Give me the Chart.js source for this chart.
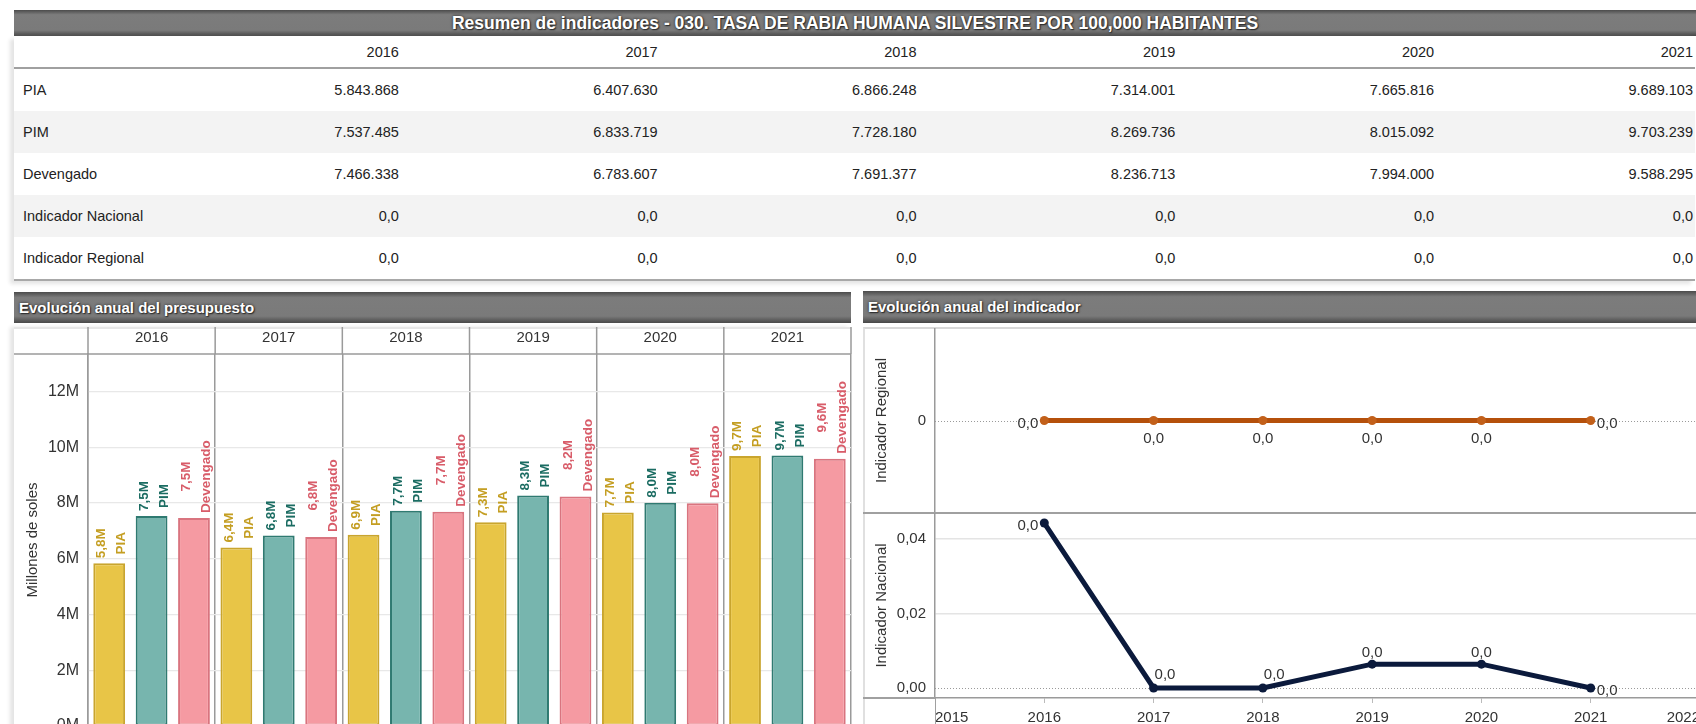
<!DOCTYPE html>
<html lang="es">
<head>
<meta charset="utf-8">
<title>Resumen de indicadores</title>
<script src="https://cdn.jsdelivr.net/npm/chart.js@4.4.1/dist/chart.umd.min.js"></script>
<style>
  html, body { margin: 0; padding: 0; background: #fff; }
  body { width: 1696px; height: 724px; overflow: hidden; position: relative;
         font-family: "Liberation Sans", Arial, sans-serif; color: #222; }
  .bar-title { position: absolute; box-sizing: border-box; color: #fff; font-weight: bold;
               background: linear-gradient(#4b4b4b 0, #7c7c7c 18%, #7a7a7a 78%, #474747 100%);
               text-shadow: 0 0 3px #222, 1px 1px 1px #333; white-space: nowrap; }
  #title { left: 14px; top: 10px; width: 1682px; height: 26px; line-height: 26px;
           text-align: center; font-size: 17.5px; }
  #titlePresupuesto { left: 14px; top: 292px; width: 837px; height: 31px; line-height: 31px;
                      padding-left: 5px; font-size: 15px; }
  #titleIndicador { left: 863px; top: 291px; width: 833px; height: 32px; line-height: 32px;
                    padding-left: 5px; font-size: 15px; }
  #resumen { position: absolute; left: 14px; top: 36px; width: 1681px; border-collapse: collapse;
             table-layout: fixed; font-size: 14.5px; box-shadow: -4px 3px 4px #e4e4e4; }
  #resumen th, #resumen td { white-space: nowrap; overflow: visible; }
  #resumen th { height: 31px; font-weight: normal; text-align: right; padding: 0 2px 0 0;
                border-bottom: 2px solid #a0a0a0; }
  #resumen td { height: 42px; text-align: right; padding: 0 2px 0 0; }
  #resumen td:first-child { text-align: left; padding-left: 9px; }
  #resumen tbody tr:nth-child(even) td { background: #f3f3f3; }
  #resumen tbody tr:last-child td { border-bottom: 2px solid #a8a8a8; }
  .box { position: absolute; box-sizing: border-box; }
  #leftBox { left: 14px; top: 327px; width: 837px; height: 420px; border-top: 2px solid #e6e6e6;
             box-shadow: -4px 0 4px #e4e4e4; }
  #rightBox { left: 863px; top: 327px; width: 833px; height: 420px; border-top: 2px solid #d8d8d8;
              border-left: 2px solid #e0e0e0; }
  .line { position: absolute; background: #a0a0a0; }
  canvas { position: absolute; }
  #presupuesto { left: 14px; top: 327px; }
  #regional { left: 863px; top: 328px; }
  #nacional { left: 863px; top: 513px; }
</style>
</head>
<body>
<div id="title" class="bar-title">Resumen de indicadores - 030. TASA DE RABIA HUMANA SILVESTRE POR 100,000 HABITANTES</div>
<table id="resumen">
  <colgroup><col style="width:128px"><col><col><col><col><col><col></colgroup>
</table>

<div id="titlePresupuesto" class="bar-title">Evolución anual del presupuesto</div>
<div id="leftBox" class="box"></div>
<canvas id="presupuesto" width="839" height="414"></canvas>

<div id="titleIndicador" class="bar-title">Evolución anual del indicador</div>
<div id="rightBox" class="box"></div>
<canvas id="regional" width="840" height="185"></canvas>
<div class="line" style="left:863px; top:512px; width:833px; height:2px;"></div>
<canvas id="nacional" width="840" height="214"></canvas>
<div class="line" style="left:863px; top:697px; width:72px; height:1.5px;"></div>
<div class="line" style="left:934.5px; top:698px; width:1.5px; height:30px;"></div>

<script>
// datos
const years = ['2016', '2017', '2018', '2019', '2020', '2021'];
const yearNums = [2016, 2017, 2018, 2019, 2020, 2021];
const pia = [5843868, 6407630, 6866248, 7314001, 7665816, 9689103];
const pim = [7537485, 6833719, 7728180, 8269736, 8015092, 9703239];
const devengado = [7466338, 6783607, 7691377, 8236713, 7994000, 9588295];
const indicadorNacional = [0.0443, 0, 0, 0.0064, 0.0064, 0];
const indicadorRegional = [0, 0, 0, 0, 0, 0];

// ticks
const budgetTicks = [0, 2000000, 4000000, 6000000, 8000000, 10000000, 12000000];
const nacionalTicks = [0, 0.02, 0.04];
const regionalTicks = [0];
const axisYears = [2015, 2016, 2017, 2018, 2019, 2020, 2021, 2022];

const FONT = '"Liberation Sans", Arial, sans-serif';
Chart.defaults.font.family = FONT;

function fmtMiles(n) {
  return String(n).replace(/\B(?=(\d{3})+(?!\d))/g, '.');
}

function fmtDec(v) {
  return v.toFixed(1).replace('.', ',');
}

// sin relleno extra alrededor de los ejes
function noPad(s) {
  s.paddingTop = 0;
  s.paddingBottom = 0;
  s.paddingLeft = 0;
  s.paddingRight = 0;
}

function buildTable() {
  const rows = [
    ['PIA', pia, fmtMiles],
    ['PIM', pim, fmtMiles],
    ['Devengado', devengado, fmtMiles],
    ['Indicador Nacional', indicadorNacional, fmtDec],
    ['Indicador Regional', indicadorRegional, fmtDec]
  ];
  let html = '<thead><tr><th></th>' + years.map(y => `<th>${y}</th>`).join('') + '</tr></thead><tbody>';
  rows.forEach(([name, vals, fmt]) => {
    html += `<tr><td>${name}</td>` + vals.map(v => `<td>${fmt(v)}</td>`).join('') + '</tr>';
  });
  html += '</tbody>';
  document.getElementById('resumen').insertAdjacentHTML('beforeend', html);
}

// lineas de la cabecera de años sobre las barras
const headerGrid = {
  id: 'headerGrid',
  afterDraw(chart) {
    const { ctx, chartArea, scales: { x } } = chart;
    const half = (x.getPixelForValue(1) - x.getPixelForValue(0)) / 2;
    ctx.save();
    ctx.strokeStyle = '#9a9a9a';
    ctx.lineWidth = 1.5;
    ctx.beginPath();
    ctx.moveTo(0, chartArea.top);
    ctx.lineTo(chartArea.right, chartArea.top);
    for (let i = 0; i <= years.length; i++) {
      const px = x.getPixelForValue(i) - half;
      ctx.moveTo(px, 0);
      ctx.lineTo(px, chartArea.top);
    }
    ctx.stroke();
    ctx.restore();
  }
};

// etiquetas verticales de las barras
const barLabels = {
  id: 'barLabels',
  afterDatasetsDraw(chart) {
    const ctx = chart.ctx;
    ctx.save();
    ctx.font = 'bold 13.5px ' + FONT;
    ctx.textAlign = 'center';
    ctx.textBaseline = 'middle';
    chart.data.datasets.forEach((ds, di) => {
      chart.getDatasetMeta(di).data.forEach((bar, i) => {
        const valTxt = (ds.data[i] / 1e6).toFixed(1).replace('.', ',') + 'M';
        const w = Math.max(ctx.measureText(valTxt).width, ctx.measureText(ds.label).width);
        ctx.save();
        ctx.translate(bar.x, bar.y - 5);
        ctx.rotate(-Math.PI / 2);
        ctx.fillStyle = ds.labelColor;
        ctx.fillText(valTxt, w / 2, -7.5);
        ctx.fillText(ds.label, w / 2, 12.5);
        ctx.restore();
      });
    });
    ctx.restore();
  }
};

// linea punteada en cero
const zeroLine = {
  id: 'zeroLine',
  beforeDatasetsDraw(chart) {
    const { ctx, chartArea, scales: { y } } = chart;
    const py = Math.round(y.getPixelForValue(0)) + 0.5;
    ctx.save();
    ctx.strokeStyle = '#9a9a9a';
    ctx.lineWidth = 1;
    ctx.setLineDash([1, 2]);
    ctx.beginPath();
    ctx.moveTo(chartArea.left, py);
    ctx.lineTo(chartArea.right, py);
    ctx.stroke();
    ctx.restore();
  }
};

const pointLabels = {
  id: 'pointLabels',
  afterDatasetsDraw(chart, args, opts) {
    const ctx = chart.ctx;
    const ds = chart.data.datasets[0];
    const pts = chart.getDatasetMeta(0).data;
    ctx.save();
    ctx.font = '15px ' + FONT;
    ctx.fillStyle = '#333';
    ctx.textBaseline = 'middle';
    pts.forEach((p, i) => {
      const v = ds.data[i].y;
      const txt = fmtDec(v);
      if (i === 0) {
        ctx.textAlign = 'right';
        ctx.fillText(txt, p.x - 6, p.y + 3);
      } else if (i === pts.length - 1) {
        ctx.textAlign = 'left';
        ctx.fillText(txt, p.x + 6, p.y + 3);
      } else if (opts.side === 'below') {
        ctx.textAlign = 'center';
        ctx.fillText(txt, p.x, p.y + 18);
      } else if (v === 0) {
        ctx.textAlign = 'left';
        ctx.fillText(txt, p.x + 1, p.y - 13);
      } else {
        ctx.textAlign = 'center';
        ctx.fillText(txt, p.x, p.y - 11);
      }
    });
    ctx.restore();
  }
};

function crearPresupuesto() {
  new Chart(document.getElementById('presupuesto'), {
    type: 'bar',
    data: {
      labels: years,
      datasets: [
        { label: 'PIA', data: pia, backgroundColor: '#E8C547', borderColor: '#C9A52E', labelColor: '#C49E22' },
        { label: 'PIM', data: pim, backgroundColor: '#77B5AE', borderColor: '#2F7A71', labelColor: '#1B6C62' },
        { label: 'Devengado', data: devengado, backgroundColor: '#F59AA2', borderColor: '#D9747F', labelColor: '#D85C69' }
      ]
    },
    options: {
      responsive: false,
      animation: false,
      layout: { autoPadding: false, padding: { top: 0, right: 2, bottom: 15, left: 0 } },
      plugins: { legend: { display: false }, tooltip: { enabled: false } },
      datasets: { bar: { categoryPercentage: 1, barPercentage: 0.75, borderWidth: 2, borderSkipped: false } },
      scales: {
        x: {
          position: 'top',
          grid: { offset: true, color: '#9a9a9a', lineWidth: 1.5, drawTicks: false },
          border: { display: false },
          ticks: { padding: 7, color: '#333', font: { size: 15 } },
          afterFit(s) { s.height = 27; noPad(s); }
        },
        y: {
          min: 0,
          max: 13350000,
          afterBuildTicks(s) { s.ticks = budgetTicks.map(v => ({ value: v })); },
          afterFit(s) { s.width = 74; noPad(s); },
          ticks: { padding: 9, color: '#333', font: { size: 16 }, callback: v => (v / 1e6) + 'M' },
          grid: { color: '#e8e8e8', lineWidth: 1.2, drawTicks: false },
          border: { color: '#9a9a9a', width: 1.5 },
          title: { display: true, text: 'Millones de soles', color: '#333', font: { size: 15 }, padding: { top: 10, bottom: 0 } }
        }
      }
    },
    plugins: [headerGrid, barLabels]
  });
}

function crearLinea(id, values, cfg) {
  return new Chart(document.getElementById(id), {
    type: 'line',
    data: {
      datasets: [{
        data: yearNums.map((x, i) => ({ x: x, y: values[i] })),
        borderColor: cfg.color,
        backgroundColor: cfg.color,
        pointBackgroundColor: cfg.pointColor,
        borderWidth: 5,
        pointRadius: 4.5,
        pointBorderWidth: 0,
        tension: 0
      }]
    },
    options: {
      responsive: false,
      animation: false,
      layout: { autoPadding: false, padding: { top: 0, right: 3, bottom: 0, left: 0 } },
      plugins: { legend: { display: false }, tooltip: { enabled: false }, pointLabels: { side: cfg.side } },
      scales: {
        x: {
          type: 'linear',
          min: 2015,
          max: 2022,
          display: cfg.showX,
          afterBuildTicks(s) { s.ticks = axisYears.map(v => ({ value: v })); },
          afterFit(s) { if (cfg.showX) s.height = 29; noPad(s); },
          ticks: { callback: v => String(v), padding: 6, color: '#333', font: { size: 15 }, maxRotation: 0, autoSkip: false, align: 'inner' },
          grid: { drawOnChartArea: false, tickLength: 5, color: '#bbb' },
          border: { color: '#9a9a9a', width: 1.5 }
        },
        y: {
          min: cfg.min,
          max: cfg.max,
          afterBuildTicks(s) { s.ticks = cfg.ticks.map(v => ({ value: v })); },
          afterFit(s) { s.width = 72; noPad(s); },
          ticks: { padding: 9, color: '#333', font: { size: 15 }, callback: cfg.fmt },
          grid: { color: c => (c.tick && c.tick.value === 0 ? 'rgba(0,0,0,0)' : '#e4e4e4'), lineWidth: 1.5, drawTicks: false },
          border: { color: '#9a9a9a', width: 1.5 },
          title: { display: true, text: cfg.title, color: '#333', font: { size: 15 }, padding: { top: 10, bottom: 0 } }
        }
      }
    },
    plugins: [zeroLine, pointLabels]
  });
}

document.addEventListener('DOMContentLoaded', () => {
  buildTable();
  crearPresupuesto();
  crearLinea('regional', indicadorRegional, {
    color: '#B5500B', pointColor: '#C2601A', side: 'below', showX: false,
    min: -1, max: 1, ticks: regionalTicks, fmt: v => String(v), title: 'Indicador Regional'
  });
  crearLinea('nacional', indicadorNacional, {
    color: '#0B1A3C', pointColor: '#0B1A3C', side: 'above', showX: true,
    min: -0.0027, max: 0.047, ticks: nacionalTicks, fmt: v => v.toFixed(2).replace('.', ','), title: 'Indicador Nacional'
  });
});
</script>
</body>
</html>
